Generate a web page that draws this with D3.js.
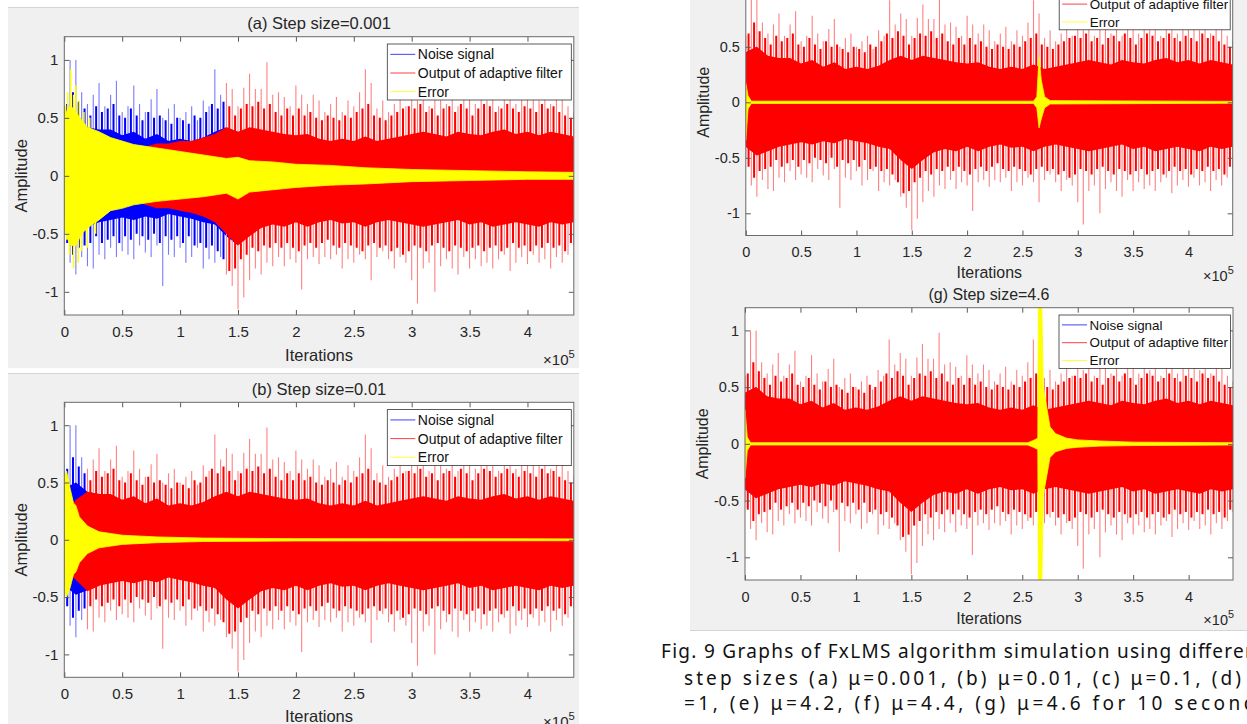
<!DOCTYPE html>
<html>
<head>
<meta charset="utf-8">
<script src="https://cdn.jsdelivr.net/npm/d3@7"></script>
<style>
  body { margin: 0; background: #ffffff; }
  svg { display: block; font-family: "Liberation Sans", Arial, sans-serif; }
  .tick text { fill: #262626; }
  .axis-title { fill: #262626; }
  .caption { font-family: "Noto Sans", "Noto Sans CJK KR", sans-serif; fill: #111; }
</style>
</head>
<body>
<svg id="fig" width="1247" height="724"></svg>
<script>
const width = 1247;
const height = 724;

/* DATA (x in units of 10^5 iterations) */
const xTicks = [0, 0.5, 1, 1.5, 2, 2.5, 3, 3.5, 4];
const xTickLabels = ["0", "0.5", "1", "1.5", "2", "2.5", "3", "3.5", "4"];
const yTicks = [-1, -0.5, 0, 0.5, 1];
const yTickLabels = ["-1", "-0.5", "0", "0.5", "1"];

const seriesNames = ["Noise signal", "Output of adaptive filter", "Error"];
const seriesColors = ["#0000ff", "#ff0000", "#ffff00"];
const tipColors = ["#7a7aff", "#ff8282"];

// dense body of the noise signal, sampled every 0.1
const coreX = [0, 0.1, 0.2, 0.3, 0.4, 0.5, 0.6, 0.7, 0.8, 0.9, 1, 1.1, 1.2, 1.3, 1.4, 1.5,
  1.6, 1.7, 1.8, 1.9, 2, 2.1, 2.2, 2.3, 2.4, 2.5, 2.6, 2.7, 2.8, 2.9, 3, 3.1, 3.2, 3.3,
  3.4, 3.5, 3.6, 3.7, 3.8, 3.9, 4, 4.1, 4.2, 4.3, 4.4];
const noiseCoreHi = [0.45, 0.5, 0.42, 0.4, 0.4, 0.35, 0.38, 0.32, 0.36, 0.3, 0.32, 0.3, 0.33,
  0.38, 0.42, 0.38, 0.42, 0.4, 0.38, 0.36, 0.35, 0.36, 0.32, 0.3, 0.32, 0.3, 0.34, 0.3, 0.32,
  0.34, 0.36, 0.38, 0.36, 0.34, 0.38, 0.36, 0.35, 0.38, 0.4, 0.36, 0.38, 0.35, 0.38, 0.36, 0.34];
const noiseCoreLo = [-0.4, -0.48, -0.44, -0.4, -0.38, -0.36, -0.38, -0.35, -0.37, -0.33, -0.35,
  -0.37, -0.4, -0.42, -0.52, -0.6, -0.52, -0.45, -0.42, -0.44, -0.4, -0.44, -0.4, -0.38,
  -0.41, -0.4, -0.44, -0.4, -0.38, -0.4, -0.42, -0.44, -0.42, -0.4, -0.38, -0.42, -0.4,
  -0.44, -0.42, -0.4, -0.42, -0.44, -0.4, -0.42, -0.4];

// tall spikes of the noise signal, every 0.05
const spikeX = [0, 0.05, 0.1, 0.15, 0.2, 0.25, 0.3, 0.35, 0.4, 0.45, 0.5, 0.55, 0.6, 0.65, 0.7,
  0.75, 0.8, 0.85, 0.9, 0.95, 1, 1.05, 1.1, 1.15, 1.2, 1.25, 1.3, 1.35, 1.4, 1.45, 1.5, 1.55,
  1.6, 1.65, 1.7, 1.75, 1.8, 1.85, 1.9, 1.95, 2, 2.05, 2.1, 2.15, 2.2, 2.25, 2.3, 2.35, 2.4,
  2.45, 2.5, 2.55, 2.6, 2.65, 2.7, 2.75, 2.8, 2.85, 2.9, 2.95, 3, 3.05, 3.1, 3.15, 3.2, 3.25,
  3.3, 3.35, 3.4, 3.45, 3.5, 3.55, 3.6, 3.65, 3.7, 3.75, 3.8, 3.85, 3.9, 3.95, 4, 4.05, 4.1,
  4.15, 4.2, 4.25, 4.3, 4.35, 4.4];
const noiseTop = [0.6, 1.0, 1.0, 0.72, 0.62, 0.7, 0.8, 0.6, 0.7, 0.82,
  0.55, 0.6, 0.78, 0.62, 0.55, 0.66, 0.75, 0.5, 0.58, 0.62,
  0.5, 0.55, 0.6, 0.48, 0.65, 0.6, 0.92, 0.7, 0.8, 0.75,
  0.6, 0.76, 0.88, 0.75, 0.75, 0.98, 0.7, 0.72, 0.68, 0.6,
  0.78, 0.7, 0.62, 0.7, 0.65, 0.55, 0.62, 0.68, 0.55, 0.65,
  0.6, 0.72, 0.92, 0.8, 0.58, 0.65, 0.55, 0.62, 0.7, 0.6,
  0.8, 0.65, 0.7, 0.6, 0.72, 0.68, 0.62, 0.7, 0.6, 0.72,
  0.68, 0.62, 0.7, 0.65, 0.72, 0.6, 0.7, 0.68, 0.62, 0.7,
  0.66, 0.7, 0.65, 0.72, 0.62, 0.7, 0.66, 0.6, 0.55];
const noiseBot = [-0.5, -0.75, -0.85, -0.7, -0.78, -0.8, -0.68, -0.72, -0.62, -0.7,
  -0.65, -0.68, -0.72, -0.6, -0.66, -0.7, -0.6, -0.95, -0.68, -0.7,
  -0.62, -0.75, -0.7, -0.62, -0.8, -0.72, -0.75, -0.7, -0.85, -0.95,
  -1.15, -1.05, -0.9, -0.8, -0.85, -0.75, -0.78, -0.7, -0.78, -0.72,
  -0.75, -0.98, -0.72, -0.7, -0.76, -0.7, -0.72, -0.68, -0.8, -0.72,
  -0.75, -0.68, -0.72, -0.9, -0.7, -0.65, -0.72, -0.8, -0.7, -0.75,
  -0.9, -1.1, -0.8, -0.75, -1.0, -0.78, -0.72, -0.8, -0.85, -0.7,
  -0.8, -0.72, -0.78, -0.75, -0.8, -0.72, -0.68, -0.82, -0.75, -0.7,
  -0.76, -0.68, -0.75, -0.72, -0.8, -0.7, -0.75, -0.68, -0.6];

// medium spikes of the noise signal, between the tall ones
const midX = [0.025, 0.075, 0.125, 0.175, 0.225, 0.275, 0.325, 0.375, 0.425, 0.475, 0.525,
  0.575, 0.625, 0.675, 0.725, 0.775, 0.825, 0.875, 0.925, 0.975, 1.025, 1.075, 1.125, 1.175,
  1.225, 1.275, 1.325, 1.375, 1.425, 1.475, 1.525, 1.575, 1.625, 1.675, 1.725, 1.775, 1.825,
  1.875, 1.925, 1.975, 2.025, 2.075, 2.125, 2.175, 2.225, 2.275, 2.325, 2.375, 2.425, 2.475,
  2.525, 2.575, 2.625, 2.675, 2.725, 2.775, 2.825, 2.875, 2.925, 2.975, 3.025, 3.075, 3.125,
  3.175, 3.225, 3.275, 3.325, 3.375, 3.425, 3.475, 3.525, 3.575, 3.625, 3.675, 3.725, 3.775,
  3.825, 3.875, 3.925, 3.975, 4.025, 4.075, 4.125, 4.175, 4.225, 4.275, 4.325, 4.375];
const noiseMidTop = [0.62, 0.72, 0.64, 0.58, 0.52, 0.6, 0.55, 0.58, 0.62, 0.52,
  0.5, 0.58, 0.52, 0.48, 0.55, 0.5, 0.52, 0.48, 0.45, 0.5,
  0.48, 0.45, 0.52, 0.5, 0.55, 0.62, 0.58, 0.64, 0.6, 0.52,
  0.58, 0.62, 0.6, 0.64, 0.58, 0.62, 0.55, 0.52, 0.58, 0.52,
  0.58, 0.52, 0.55, 0.5, 0.48, 0.52, 0.5, 0.48, 0.52, 0.5,
  0.55, 0.58, 0.62, 0.52, 0.5, 0.48, 0.52, 0.55, 0.58, 0.6,
  0.58, 0.62, 0.55, 0.58, 0.52, 0.58, 0.6, 0.55, 0.62, 0.58,
  0.52, 0.58, 0.62, 0.6, 0.55, 0.58, 0.62, 0.58, 0.55, 0.6,
  0.58, 0.55, 0.62, 0.58, 0.6, 0.55, 0.52, 0.5];
const noiseMidBot = [-0.58, -0.68, -0.62, -0.6, -0.58, -0.52, -0.58, -0.55, -0.52, -0.58,
  -0.52, -0.55, -0.5, -0.52, -0.55, -0.5, -0.58, -0.52, -0.55, -0.52,
  -0.58, -0.52, -0.6, -0.58, -0.62, -0.6, -0.65, -0.72, -0.82, -0.8,
  -0.72, -0.68, -0.62, -0.65, -0.6, -0.62, -0.58, -0.62, -0.58, -0.62,
  -0.65, -0.6, -0.58, -0.62, -0.58, -0.55, -0.6, -0.62, -0.58, -0.6,
  -0.62, -0.65, -0.6, -0.58, -0.62, -0.6, -0.65, -0.62, -0.68, -0.65,
  -0.6, -0.62, -0.65, -0.6, -0.58, -0.62, -0.65, -0.6, -0.62, -0.65,
  -0.62, -0.6, -0.65, -0.62, -0.6, -0.65, -0.62, -0.58, -0.62, -0.6,
  -0.65, -0.6, -0.62, -0.58, -0.62, -0.6, -0.65, -0.58];

// output of adaptive filter, (a) step size 0.001 (slow growth)
const outCoreHiA = [0, 0.05, 0.08, 0.1, 0.12, 0.15, 0.2, 0.25, 0.28, 0.28, 0.3, 0.3, 0.33,
  0.36, 0.42, 0.38, 0.42, 0.4, 0.38, 0.36, 0.35, 0.36, 0.32, 0.3, 0.32, 0.3, 0.34, 0.3, 0.32,
  0.34, 0.36, 0.38, 0.36, 0.34, 0.38, 0.36, 0.35, 0.38, 0.4, 0.36, 0.38, 0.35, 0.38, 0.36, 0.34];
const outCoreLoA = [0, -0.05, -0.08, -0.1, -0.12, -0.15, -0.2, -0.25, -0.28, -0.28, -0.3,
  -0.32, -0.35, -0.4, -0.5, -0.6, -0.52, -0.45, -0.42, -0.44, -0.4, -0.44, -0.4, -0.38,
  -0.41, -0.4, -0.44, -0.4, -0.38, -0.4, -0.42, -0.44, -0.42, -0.4, -0.38, -0.42, -0.4,
  -0.44, -0.42, -0.4, -0.42, -0.44, -0.4, -0.42, -0.4];
// (b) only the first samples differ from the noise
const outHeadHiB = [0.2, 0.35, 0.42];
const outHeadLoB = [-0.25, -0.35, -0.45];

// error envelopes: [x, upper, lower]
const errA = [[0, 0.5, -0.45], [0.03, 0.58, -0.55], [0.06, 0.6, -0.6], [0.1, 0.55, -0.6],
  [0.15, 0.48, -0.5], [0.2, 0.42, -0.45], [0.3, 0.38, -0.38], [0.4, 0.33, -0.3],
  [0.5, 0.3, -0.28], [0.6, 0.27, -0.25], [0.8, 0.24, -0.22], [1.0, 0.21, -0.2],
  [1.2, 0.18, -0.18], [1.4, 0.15, -0.15], [1.5, 0.16, -0.2], [1.6, 0.13, -0.14],
  [1.8, 0.12, -0.12], [2.0, 0.1, -0.1], [2.3, 0.09, -0.08], [2.6, 0.07, -0.07],
  [3.0, 0.055, -0.05], [3.5, 0.045, -0.04], [4.0, 0.035, -0.03], [4.4, 0.03, -0.03]];
const errSpikesA = [[0.01, 0.6], [0.03, 0.72], [0.055, 0.92], [0.08, 0.7], [0.1, 0.78],
  [0.13, 0.65], [0.17, 0.55], [0.22, 0.5], [0.02, -0.55], [0.045, -0.68], [0.08, -0.8],
  [0.12, -0.75], [0.15, -0.65], [0.2, -0.62], [0.27, -0.5]];
const errB = [[0, 0.55, -0.45], [0.02, 0.6, -0.5], [0.05, 0.45, -0.42], [0.08, 0.32, -0.3],
  [0.1, 0.3, -0.28], [0.13, 0.2, -0.2], [0.2, 0.12, -0.12], [0.3, 0.07, -0.07],
  [0.5, 0.04, -0.04], [0.8, 0.025, -0.025], [1.2, 0.015, -0.015], [2.0, 0.01, -0.01],
  [4.4, 0.008, -0.008]];
const errF = [[0, 0.17, -0.34], [0.02, 0.06, -0.06], [0.05, 0.01, -0.01], [2.6, 0.01, -0.01],
  [2.63, 0.05, -0.05], [2.65, 0.41, -0.23], [2.67, 0.2, -0.15], [2.7, 0.05, -0.05],
  [2.75, 0.015, -0.015], [4.4, 0.008, -0.008]];
const errG = [[0, 0.3, -0.3], [0.02, 0.06, -0.06], [0.05, 0.01, -0.01], [2.55, 0.01, -0.01],
  [2.6, 0.03, -0.03], [2.64, 0.05, -0.05], [2.645, 1.3, -1.3], [2.675, 1.3, -1.3],
  [2.69, 0.5, -0.45], [2.75, 0.15, -0.12], [2.8, 0.09, -0.07], [2.9, 0.05, -0.04],
  [3.0, 0.035, -0.03], [3.2, 0.025, -0.02], [3.5, 0.015, -0.015], [4.4, 0.01, -0.01]];

const captionLines = [
  "Fig. 9 Graphs of FxLMS algorithm simulation using different",
  "step sizes (a) \u03bc=0.001, (b) \u03bc=0.01, (c) \u03bc=0.1, (d) \u03bc",
  "=1, (e) \u03bc=4.2, (f) \u03bc=4.4, (g) \u03bc=4.6 for 10 seconds"
];


/* LAYOUT */
const panels = [
  { id: "a", title: "(a) Step size=0.001", left: 64.3, right: 573.8, top: 36.7, bottom: 315,
    ylabelX: 21, fs: 15, legendFs: 14, legendW: 184, legendH: 56, xlabOff: 45.5, expOff: 50,
    out: { hi: outCoreHiA, lo: outCoreLoA, from: 1.4 }, err: errA, errSpikes: errSpikesA },
  { id: "b", title: "(b) Step size=0.01", left: 64.3, right: 573.8, top: 402.3, bottom: 677.3,
    ylabelX: 21, fs: 15, legendFs: 14, legendW: 184, legendH: 56, xlabOff: 45, expOff: 50,
    out: { hi: outHeadHiB.concat(noiseCoreHi.slice(outHeadHiB.length)),
           lo: outHeadLoB.concat(noiseCoreLo.slice(outHeadLoB.length)), from: 0.2 },
    err: errB, errSpikes: [] },
  // title of (f) lies above the visible page
  { id: "f", title: null, left: 745.8, right: 1232.7, top: -30.9, bottom: 235.5,
    ylabelX: 703, fs: 14.5, legendFs: 13.4, legendW: 171, legendH: 53.4, xlabOff: 42.5, expOff: 45.5,
    out: { hi: noiseCoreHi, lo: noiseCoreLo, from: 0 }, err: errF, errSpikes: [] },
  { id: "g", title: "(g) Step size=4.6", left: 745, right: 1233, top: 307.7, bottom: 580,
    ylabelX: 702, fs: 14.5, legendFs: 13.4, legendW: 171.5, legendH: 53.4, xlabOff: 43.5, expOff: 45,
    out: { hi: noiseCoreHi, lo: noiseCoreLo, from: 0 }, err: errG, errSpikes: [] }
];

const svg = d3.select("svg#fig");
const defs = svg.append("defs");

drawBackgrounds();
panels.forEach(drawPanel);
drawCaption();


/* FIGURE BACKGROUNDS */
function drawBackgrounds() {
  const bg = svg.append("g").attr("id", "backgrounds");
  bg.append("rect").attr("x", 8).attr("y", 8).attr("width", 571).attr("height", 360).attr("fill", "#f0f0f0");
  bg.append("rect").attr("x", 8).attr("y", 374).attr("width", 571).attr("height", 360).attr("fill", "#f0f0f0");
  bg.append("rect").attr("x", 690).attr("y", 0).attr("width", 557).attr("height", 630).attr("fill", "#f0f0f0");

  bg.append("line").attr("x1", 8).attr("x2", 579).attr("y1", 7.5).attr("y2", 7.5).attr("stroke", "#d4d4d4");
  bg.append("line").attr("x1", 8).attr("x2", 579).attr("y1", 373.5).attr("y2", 373.5).attr("stroke", "#d4d4d4");
  bg.append("line").attr("x1", 690).attr("x2", 1247).attr("y1", 630.5).attr("y2", 630.5).attr("stroke", "#d4d4d4");
}


function drawPanel(p) {
  const g = svg.append("g").attr("id", "panel-" + p.id);

  const x = d3.scaleLinear().domain([0, 4.4]).range([p.left, p.right]);
  const y = d3.scaleLinear().domain([-1.2, 1.2]).range([p.bottom, p.top]);

  g.append("rect")
    .attr("x", p.left).attr("y", p.top)
    .attr("width", p.right - p.left).attr("height", p.bottom - p.top)
    .attr("fill", "#ffffff");

  defs.append("clipPath").attr("id", "clip-" + p.id)
    .append("rect")
    .attr("x", p.left).attr("y", p.top)
    .attr("width", p.right - p.left).attr("height", p.bottom - p.top);

  const plot = g.append("g").attr("clip-path", "url(#clip-" + p.id + ")");

  // noise signal only where the output has not yet caught up, then the output on top
  drawSignal(plot, x, y, noiseCoreHi, noiseCoreLo, 0, 0, p.out.from);
  drawSignal(plot, x, y, p.out.hi, p.out.lo, 1, p.out.from, Infinity);

  // error
  plot.selectAll("line.err-spike")
    .data(p.errSpikes)
    .enter()
    .append("line")
    .attr("class", "err-spike")
    .attr("x1", d => x(d[0])).attr("x2", d => x(d[0]))
    .attr("y1", y(0)).attr("y2", d => y(d[1]))
    .attr("stroke", seriesColors[2])
    .attr("stroke-width", 1.5);

  const errArea = d3.area()
    .x(d => x(d[0]))
    .y0(d => y(d[2]))
    .y1(d => y(d[1]));

  plot.append("path")
    .datum(p.err)
    .attr("d", errArea)
    .attr("fill", seriesColors[2])
    .attr("stroke", seriesColors[2])
    .attr("stroke-width", 0.8);

  drawAxes(g, p, x, y);
  drawLegend(g, p);
}


function drawSignal(plot, x, y, hi, lo, k, from, to) {
  const inside = d => d.x >= from && d.x < to;
  const tall = spikeX
    .map((v, i) => ({ x: v, top: noiseTop[i], bot: noiseBot[i] }))
    .filter(inside);
  const mid = midX
    .map((v, i) => ({ x: v, top: noiseMidTop[i], bot: noiseMidBot[i] }))
    .filter(inside);

  plot.append("g")
    .selectAll("line")
    .data(tall)
    .enter()
    .append("line")
    .attr("x1", d => x(d.x)).attr("x2", d => x(d.x))
    .attr("y1", d => y(d.bot)).attr("y2", d => y(d.top))
    .attr("stroke", tipColors[k])
    .attr("stroke-width", 1.1);

  plot.append("g")
    .selectAll("line")
    .data(mid)
    .enter()
    .append("line")
    .attr("x1", d => x(d.x)).attr("x2", d => x(d.x))
    .attr("y1", d => y(d.bot)).attr("y2", d => y(d.top))
    .attr("stroke", seriesColors[k])
    .attr("stroke-width", 2);

  const body = coreX
    .map((v, i) => ({ x: v, hi: hi[i], lo: lo[i] }))
    .filter(d => d.x <= to + 0.1);

  const core = d3.area()
    .x(d => x(d.x))
    .y0(d => y(d.lo))
    .y1(d => y(d.hi));

  plot.append("path")
    .datum(body)
    .attr("d", core)
    .attr("fill", seriesColors[k]);
}


function drawAxes(g, p, x, y) {
  const tickLen = 5;
  const shownY = yTicks.filter(v => y(v) > 6);

  const xAxis = d3.axisBottom(x)
    .tickValues(xTicks)
    .tickFormat((d, i) => xTickLabels[i])
    .tickSize(-tickLen)
    .tickSizeOuter(0)
    .tickPadding(11.5);
  const yAxis = d3.axisLeft(y)
    .tickValues(shownY)
    .tickFormat(d => yTickLabels[yTicks.indexOf(d)])
    .tickSize(-tickLen)
    .tickSizeOuter(0)
    .tickPadding(6);
  const xTop = d3.axisTop(x).tickValues(xTicks).tickFormat("").tickSize(-tickLen).tickSizeOuter(0);
  const yRight = d3.axisRight(y).tickValues(shownY).tickFormat("").tickSize(-tickLen).tickSizeOuter(0);

  const groups = [
    g.append("g").attr("transform", translate(0, p.bottom)).call(xAxis),
    g.append("g").attr("transform", translate(p.left, 0)).call(yAxis),
    g.append("g").attr("transform", translate(0, p.top)).call(xTop),
    g.append("g").attr("transform", translate(p.right, 0)).call(yRight)
  ];
  groups.forEach(ax => {
    ax.select(".domain").remove();
    ax.selectAll(".tick line").attr("stroke", "#595959");
    ax.selectAll(".tick text").style("font-size", p.fs + "px").style("font-family", "Liberation Sans, Arial, sans-serif");
  });

  g.append("rect")
    .attr("x", p.left).attr("y", p.top)
    .attr("width", p.right - p.left).attr("height", p.bottom - p.top)
    .attr("fill", "none")
    .attr("stroke", "#6a6a6a")
    .attr("stroke-width", 1);

  const mid = midpoint([p.left, p.right]);
  const titleSize = p.fs * 1.1;

  if (p.title) {
    g.append("text")
      .attr("class", "axis-title")
      .attr("x", mid).attr("y", p.top - 7.5)
      .attr("text-anchor", "middle")
      .style("font-size", titleSize + "px")
      .text(p.title);
  }

  g.append("text")
    .attr("class", "axis-title")
    .attr("x", mid).attr("y", p.bottom + p.xlabOff)
    .attr("text-anchor", "middle")
    .style("font-size", titleSize + "px")
    .text("Iterations");

  const yTitleGroup = g.append("g")
    .attr("transform", translate(p.ylabelX, midpoint([p.top, p.bottom])));
  yTitleGroup.append("text")
    .attr("class", "axis-title")
    .attr("transform", "rotate(-90)")
    .attr("text-anchor", "middle")
    .attr("dy", "0.35em")
    .style("font-size", titleSize + "px")
    .text("Amplitude");

  const expo = g.append("text")
    .attr("class", "axis-title")
    .attr("x", p.right + 1).attr("y", p.bottom + p.expOff)
    .attr("text-anchor", "end")
    .style("font-size", p.fs + "px");
  expo.append("tspan").text("\u00d710");
  expo.append("tspan").attr("dy", -7).style("font-size", (p.fs * 0.75) + "px").text("5");
}


/* LEGEND */
function drawLegend(g, p) {
  const lx = p.right - 2.5 - p.legendW;
  const ly = p.top + 7.3;
  const rowGap = p.legendH / 3;

  const legend = g.append("g").attr("class", "legend").attr("transform", translate(lx, ly));

  legend.append("rect")
    .attr("width", p.legendW).attr("height", p.legendH)
    .attr("fill", "#ffffff")
    .attr("stroke", "#333333")
    .attr("stroke-width", 0.8);

  const rows = legend.selectAll("g.row")
    .data(seriesNames)
    .enter()
    .append("g")
    .attr("class", "row")
    .attr("transform", (d, i) => translate(0, rowGap * (i + 0.5) + 1));

  rows.append("line")
    .attr("x1", 3).attr("x2", 28)
    .attr("stroke", (d, i) => seriesColors[i])
    .attr("stroke-width", 1)
    .attr("stroke-opacity", 0.75);

  rows.append("text")
    .attr("x", 30.5)
    .attr("dy", "0.35em")
    .style("font-size", p.legendFs + "px")
    .attr("fill", "#111")
    .text(d => d);
}


/* CAPTION */
function drawCaption() {
  // start x, baseline y, full justified width of each line
  const lines = [[661, 658, 604], [684, 684.5, 580], [684, 710, 584]];
  svg.append("g").attr("id", "caption")
    .selectAll("text")
    .data(captionLines)
    .enter()
    .append("text")
    .attr("class", "caption")
    .attr("x", (d, i) => lines[i][0])
    .attr("y", (d, i) => lines[i][1])
    .attr("textLength", (d, i) => lines[i][2])
    .attr("lengthAdjust", "spacing")
    .style("font-size", "19px")
    .text(d => d);
}


/*
 * calculates the midpoint of a range given as a 2 element array
 */
function midpoint(range) {
  return range[0] + (range[1] - range[0]) / 2.0;
}

/*
 * returns a translate string for the transform attribute
 */
function translate(x, y) {
  return 'translate(' + String(x) + ',' + String(y) + ')';
}
</script>
</body>
</html>
